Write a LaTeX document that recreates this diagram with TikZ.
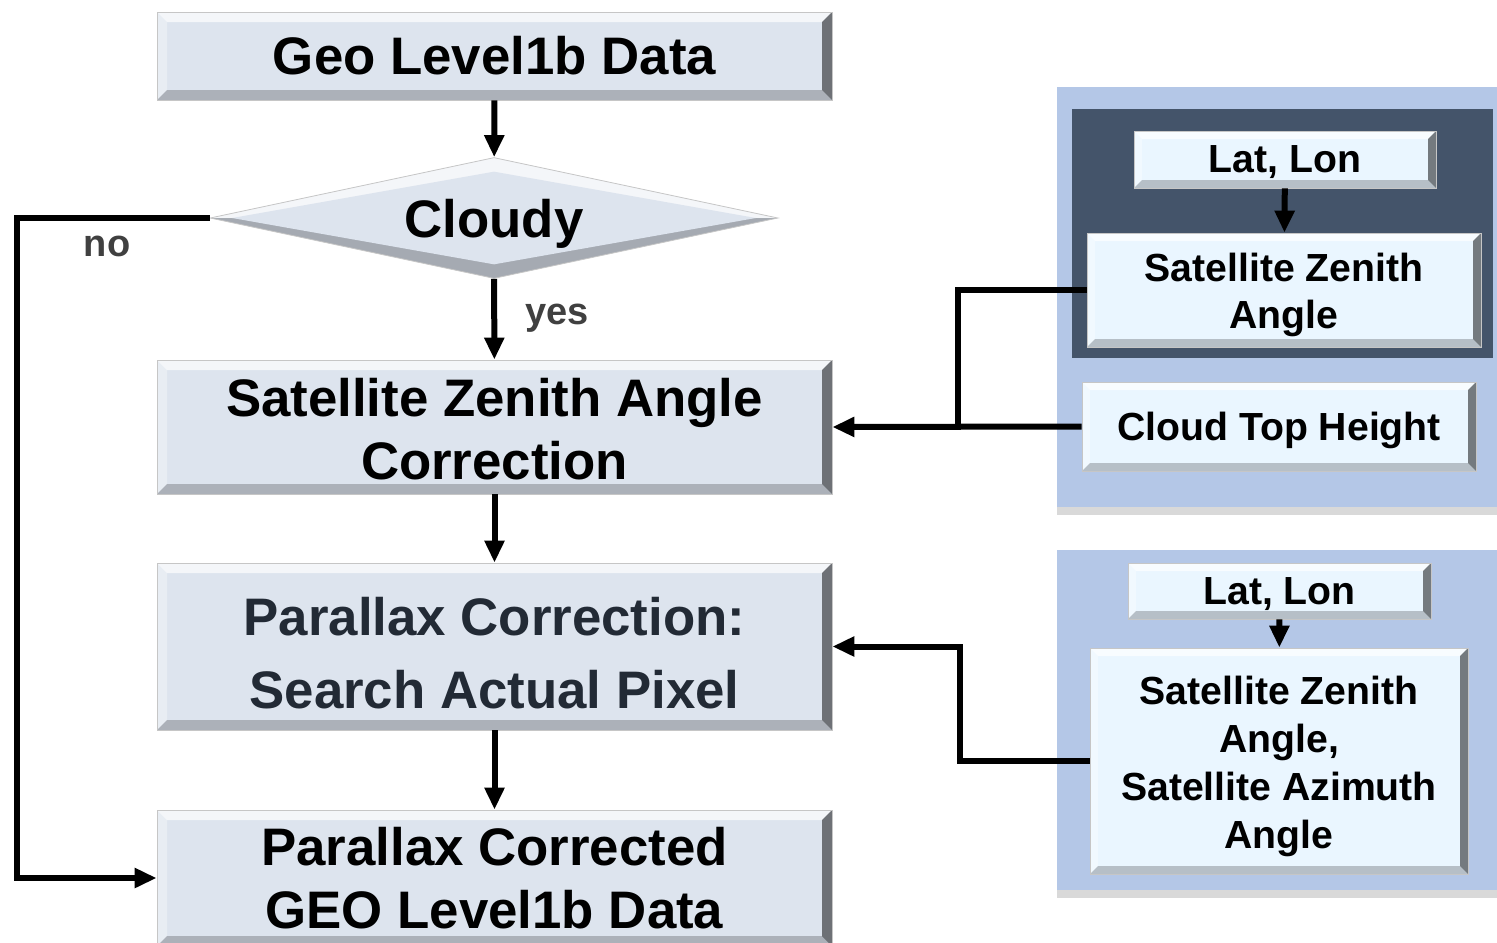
\documentclass[tikz,border=0pt]{standalone}
\usepackage{fontspec}
\setmainfont{Liberation Sans}
\usetikzlibrary{arrows.meta,shapes.geometric,shadows}

\definecolor{boxfill}{HTML}{DDE4EE}
\definecolor{sidefill}{HTML}{EAF6FF}
\definecolor{panelblue}{HTML}{B4C7E7}
\definecolor{paneldark}{HTML}{44546A}
\definecolor{textdark}{HTML}{222A35}
\definecolor{lblgray}{HTML}{404040}

\tikzset{
  % raised edges of the rectangular boxes
  bevel/.style={path picture={
    \path (path picture bounding box.north west) coordinate (bnw)
          (path picture bounding box.north east) coordinate (bne)
          (path picture bounding box.south west) coordinate (bsw)
          (path picture bounding box.south east) coordinate (bse);
    \fill[white,opacity=.7] (bnw) -- (bne) -- ([shift={(-#1,-#1)}]bne) -- ([shift={(#1,-#1)}]bnw) -- cycle;
    \fill[white,opacity=.35] (bnw) -- (bsw) -- ([shift={(#1,#1)}]bsw) -- ([shift={(#1,-#1)}]bnw) -- cycle;
    \fill[black,opacity=.22] (bsw) -- (bse) -- ([shift={(-#1,#1)}]bse) -- ([shift={(#1,#1)}]bsw) -- cycle;
    \fill[black,opacity=.5] (bne) -- (bse) -- ([shift={(-#1,#1)}]bse) -- ([shift={(-#1,-#1)}]bne) -- cycle;
  }},
  bevel/.default=4.5pt,
  % raised edges of the decision diamond
  dbevel/.style={path picture={
    \path (path picture bounding box.north) coordinate (dn)
          (path picture bounding box.south) coordinate (ds)
          (path picture bounding box.east) coordinate (de)
          (path picture bounding box.west) coordinate (dw);
    \fill[white,opacity=.7] (dw) -- (dn) -- (de) -- cycle;
    \fill[black,opacity=.25] (dw) -- (ds) -- (de) -- cycle;
    \fill[boxfill] ([xshift=11pt]dw) -- ([yshift=-7pt]dn) -- ([xshift=-11pt]de) -- ([yshift=7pt]ds) -- cycle;
  }},
  mainbox/.style={bevel=5pt, fill=boxfill, draw=gray!45, line width=.4pt,
    minimum width=337.5pt, inner sep=0pt, align=center,
    font=\fontsize{26.4}{31.5}\selectfont\bfseries},
  sidebox/.style={bevel=4pt, fill=sidefill, draw=gray!45, line width=.4pt,
    inner sep=0pt, align=center,
    font=\fontsize{19.6}{23.8}\selectfont\bfseries},
  decision/.style={diamond, aspect=4.7, minimum width=284pt, minimum height=60.5pt,
    inner sep=0pt, fill=boxfill, draw=gray!45, line width=.4pt, dbevel, text depth=0pt,
    font=\fontsize{26.4}{31.5}\selectfont\bfseries},
  panel/.style={fill=panelblue, drop shadow={shadow xshift=0pt, shadow yshift=-4pt, opacity=.3}},
  link/.style={line width=3pt, -{Triangle[length=11pt,width=9.5pt]}},
  plain/.style={line width=3pt},
  lbl/.style={text=lblgray, inner sep=0pt, text depth=0pt, font=\fontsize{19}{22}\selectfont\bfseries},
}

\begin{document}
\begin{tikzpicture}[x=0.5pt,y=-0.5pt]
\useasboundingbox (0,0) rectangle (1497,942);

%side panels
\fill[panel] (1057,87) rectangle (1510,507);
\fill[paneldark] (1072,109) rectangle (1493,358);
\fill[panel] (1057,550) rectangle (1510,890);

%main flow
\node[mainbox, minimum height=44pt] (geo) at (494.5,56) {Geo Level1b Data};
\node[decision] (cloudy) at (494,218) {Cloudy};
\node[mainbox, minimum height=67pt] (sza) at (494.5,427) {\rule{0pt}{21pt}Satellite Zenith Angle\\Correction};
\node[mainbox, minimum height=83.5pt, text=textdark,
  font=\fontsize{26.4}{36.5}\selectfont\bfseries] (plx) at (494.5,646.5) {\rule{0pt}{26pt}Parallax Correction:\\Search Actual Pixel};
\node[mainbox, minimum height=68pt] (out) at (494.5,878) {Parallax Corrected\\GEO Level1b Data};

%inputs
\node[sidebox, minimum width=151pt, minimum height=28.5pt, text depth=0pt] (lat1) at (1285,159.5) {Lat, Lon};
\node[sidebox, minimum width=197pt, minimum height=57pt] (sza1) at (1284,290) {\rule{0pt}{19.3pt}Satellite Zenith\\Angle};
\node[sidebox, minimum width=197pt, minimum height=44.5pt, text depth=0pt] (cth) at (1279,426.5) {Cloud Top Height};
\node[sidebox, minimum width=151.5pt, minimum height=28pt, text depth=0pt] (lat2) at (1279.5,591) {Lat, Lon};
\node[sidebox, minimum width=189pt, minimum height=113pt,
  font=\fontsize{19.6}{24}\selectfont\bfseries] (geom2) at (1279,761) {\rule{0pt}{19.3pt}Satellite Zenith\\Angle,\\Satellite Azimuth\\Angle};

\node[lbl] (nolbl) at (107,246) {no};
\node[lbl] (yeslbl) at (557,314) {yes};

\coordinate (noleft) at (17,500);
\coordinate (join) at (958,427);
\coordinate (bend) at (960,700);

%connectors
\draw[link] (geo) -- (cloudy);
\draw[link] (cloudy) -- (sza);
\draw[link] (sza) -- (plx);
\draw[link] (plx) -- (out);
\draw[link] (cloudy.west) -| (noleft) |- (out.west);
\draw[link] (lat1) -- (sza1);
\draw[link] (lat2) -- (geom2);
\draw[plain] (sza1.west) -| (join);
\draw[link] (cth.west) -- (sza.east);
\draw[link] (geom2.west) -| (bend) |- (plx.east);

\end{tikzpicture}
\end{document}
